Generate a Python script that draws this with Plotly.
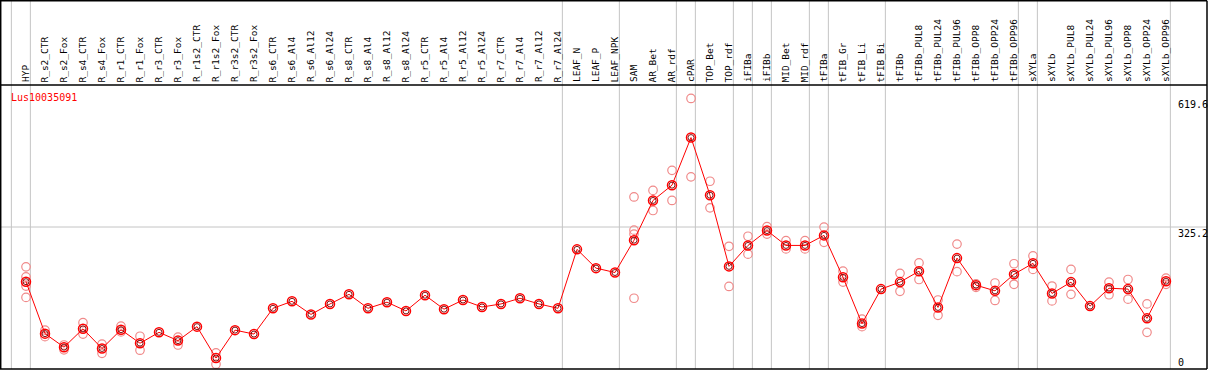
import plotly.graph_objects as go

categories = ["HYP", "R_s2_CTR", "R_s2_Fox", "R_s4_CTR", "R_s4_Fox", "R_r1_CTR", "R_r1_Fox",
              "R_r3_CTR", "R_r3_Fox", "R_r1s2_CTR", "R_r1s2_Fox", "R_r3s2_CTR", "R_r3s2_Fox",
              "R_s6_CTR", "R_s6_Al4", "R_s6_Al12", "R_s6_Al24", "R_s8_CTR", "R_s8_Al4",
              "R_s8_Al12", "R_s8_Al24", "R_r5_CTR", "R_r5_Al4", "R_r5_Al12", "R_r5_Al24",
              "R_r7_CTR", "R_r7_Al4", "R_r7_Al12", "R_r7_Al24", "LEAF_N", "LEAF_P", "LEAF_NPK",
              "SAM", "AR_Bet", "AR_rdf", "cPAR", "TOP_Bet", "TOP_rdf", "iFIBa", "iFIBb",
              "MID_Bet", "MID_rdf", "tFIBa", "tFIB_Gr", "tFIB_Li", "tFIB_Bi", "tFIBb",
              "tFIBb_PUL8", "tFIBb_PUL24", "tFIBb_PUL96", "tFIBb_OPP8", "tFIBb_OPP24",
              "tFIBb_OPP96", "sXYLa", "sXYLb", "sXYLb_PUL8", "sXYLb_PUL24", "sXYLb_PUL96",
              "sXYLb_OPP8", "sXYLb_OPP24", "sXYLb_OPP96"]

mean_values = [200, 81, 50, 92, 47, 90, 59, 84, 65, 97, 25, 89, 80,
               139, 155, 125, 149, 171, 139, 153, 133, 169, 137, 158, 142, 149, 162, 149, 139,
               274, 231, 221, 295, 386, 421, 530, 398, 235, 283, 317, 283, 283, 306,
               210, 104, 183, 199, 224, 141, 254, 192, 179, 217, 242, 173, 199, 144, 185,
               183, 116, 201]

replicate_values = [[234, 211, 190, 164], [89, 74], [55, 44], [106, 80], [57, 36], [98, 85],
                    [75, 43], [], [73, 55], [], [37, 11], [], [],
                    [], [], [], [], [], [], [], [], [], [], [], [], [], [], [], [],
                    [], [], [], [394, 318, 309, 162], [409, 363], [455, 386], [619.6, 440],
                    [430, 369], [281, 189], [304, 263], [326, 309], [294, 275], [294, 275],
                    [325, 290], [224, 199], [114, 97], [], [219, 178], [243, 205], [158, 123],
                    [286, 223], [195, 187], [197, 157], [241, 194], [259, 228], [190, 156],
                    [228, 171], [], [199, 170], [205, 160], [149, 84], [208, 194]]

group_breaks = [-1, 0, 28, 31, 34, 35, 37, 38, 39, 41, 42, 45, 52, 53, 60]
y_tick_values = [619.6, 325.2, 0]
y_tick_labels = ["619.6", "325.2", "0"]
gene_name = "Lus10035091"
y_max = 650.4

W, H = 1209, 370
FONT = "DejaVu Sans Mono"
n = len(categories)
x_idx = list(range(n))

# pixel geometry -> axis ranges
x0_px, step_px = 26, 19
x_lo = -x0_px / step_px
x_hi = x_lo + W / step_px
plot_top_px, plot_bot_px = 85, 369
k = (plot_bot_px - plot_top_px) / y_max
y_lo = -(H - plot_bot_px) / k
y_hi = plot_bot_px / k


def py(px):
    return 1 - px / H


rep_x, rep_y = [], []
for i, reps in enumerate(replicate_values):
    for v in reps:
        rep_x.append(i)
        rep_y.append(v)

fig = go.Figure()
fig.add_trace(go.Scatter(x=rep_x, y=rep_y, mode="markers",
                         marker=dict(symbol="circle-open", size=8.5, color="#f08a8a",
                                     line=dict(width=1.2)),
                         hoverinfo="skip", showlegend=False))
fig.add_trace(go.Scatter(x=x_idx, y=mean_values, mode="lines+markers",
                         line=dict(color="#ff0000", width=1),
                         marker=dict(symbol="circle-open", size=9, color="#ff0000",
                                     line=dict(width=1.5)),
                         text=categories, showlegend=False))
fig.add_trace(go.Scatter(x=x_idx, y=mean_values, mode="markers",
                         marker=dict(symbol="circle-open", size=6, color="#700000",
                                     line=dict(width=0.9)),
                         hoverinfo="skip", showlegend=False))

shapes = []
grey = "#c4c4c4"
for b in group_breaks:
    shapes.append(dict(type="line", xref="x", yref="paper", x0=b + 0.23, x1=b + 0.23,
                       y0=py(plot_bot_px), y1=1, line=dict(color=grey, width=1), layer="below"))
shapes.append(dict(type="line", xref="paper", yref="y", x0=0, x1=1207 / W,
                   y0=y_tick_values[1], y1=y_tick_values[1],
                   line=dict(color=grey, width=1), layer="below"))
blk = dict(color="#000000", width=1.5)
shapes += [
    dict(type="line", xref="paper", yref="paper", x0=0, x1=1207 / W, y0=py(0.7), y1=py(0.7), line=blk),
    dict(type="line", xref="paper", yref="paper", x0=0, x1=1207 / W, y0=py(plot_top_px), y1=py(plot_top_px), line=blk),
    dict(type="line", xref="paper", yref="paper", x0=0, x1=1207 / W, y0=py(plot_bot_px), y1=py(plot_bot_px), line=blk),
    dict(type="line", xref="paper", yref="paper", x0=0.7 / W, x1=0.7 / W, y0=py(plot_bot_px), y1=py(0.7), line=blk),
    dict(type="line", xref="paper", yref="paper", x0=1207 / W, x1=1207 / W, y0=py(plot_bot_px), y1=py(0.7), line=blk),
]

annotations = []
for i, c in enumerate(categories):
    annotations.append(dict(x=i - 0.05, xref="x", y=py(plot_top_px - 1.5), yref="paper", text=c,
                            showarrow=False, textangle=-90, xanchor="center", yanchor="bottom",
                            font=dict(family=FONT, size=9.5, color="#000000"), borderpad=0))
annotations.append(dict(x=9 / W, xref="paper", y=py(97), yref="paper", text=gene_name,
                        showarrow=False, xanchor="left", yanchor="middle",
                        font=dict(family=FONT, size=10, color="#ff0000")))
for v, t in zip(y_tick_values, y_tick_labels):
    annotations.append(dict(x=1177 / W, xref="paper", y=v, yref="y", text=t, showarrow=False,
                            xanchor="left", yanchor="bottom" if v == 0 else "top",
                            font=dict(family=FONT, size=10, color="#000000"), borderpad=0))

fig.update_layout(
    width=W, height=H, autosize=False,
    margin=dict(l=0, r=0, t=0, b=0, pad=0),
    paper_bgcolor="#ffffff", plot_bgcolor="#ffffff",
    xaxis=dict(range=[x_lo, x_hi], visible=False, fixedrange=True),
    yaxis=dict(range=[y_lo, y_hi], visible=False, fixedrange=True),
    shapes=shapes, annotations=annotations,
    showlegend=False,
)

fig.write_html("out.html", config={"displayModeBar": False},
               post_script="document.body.style.margin='0';document.body.style.overflow='hidden';")
